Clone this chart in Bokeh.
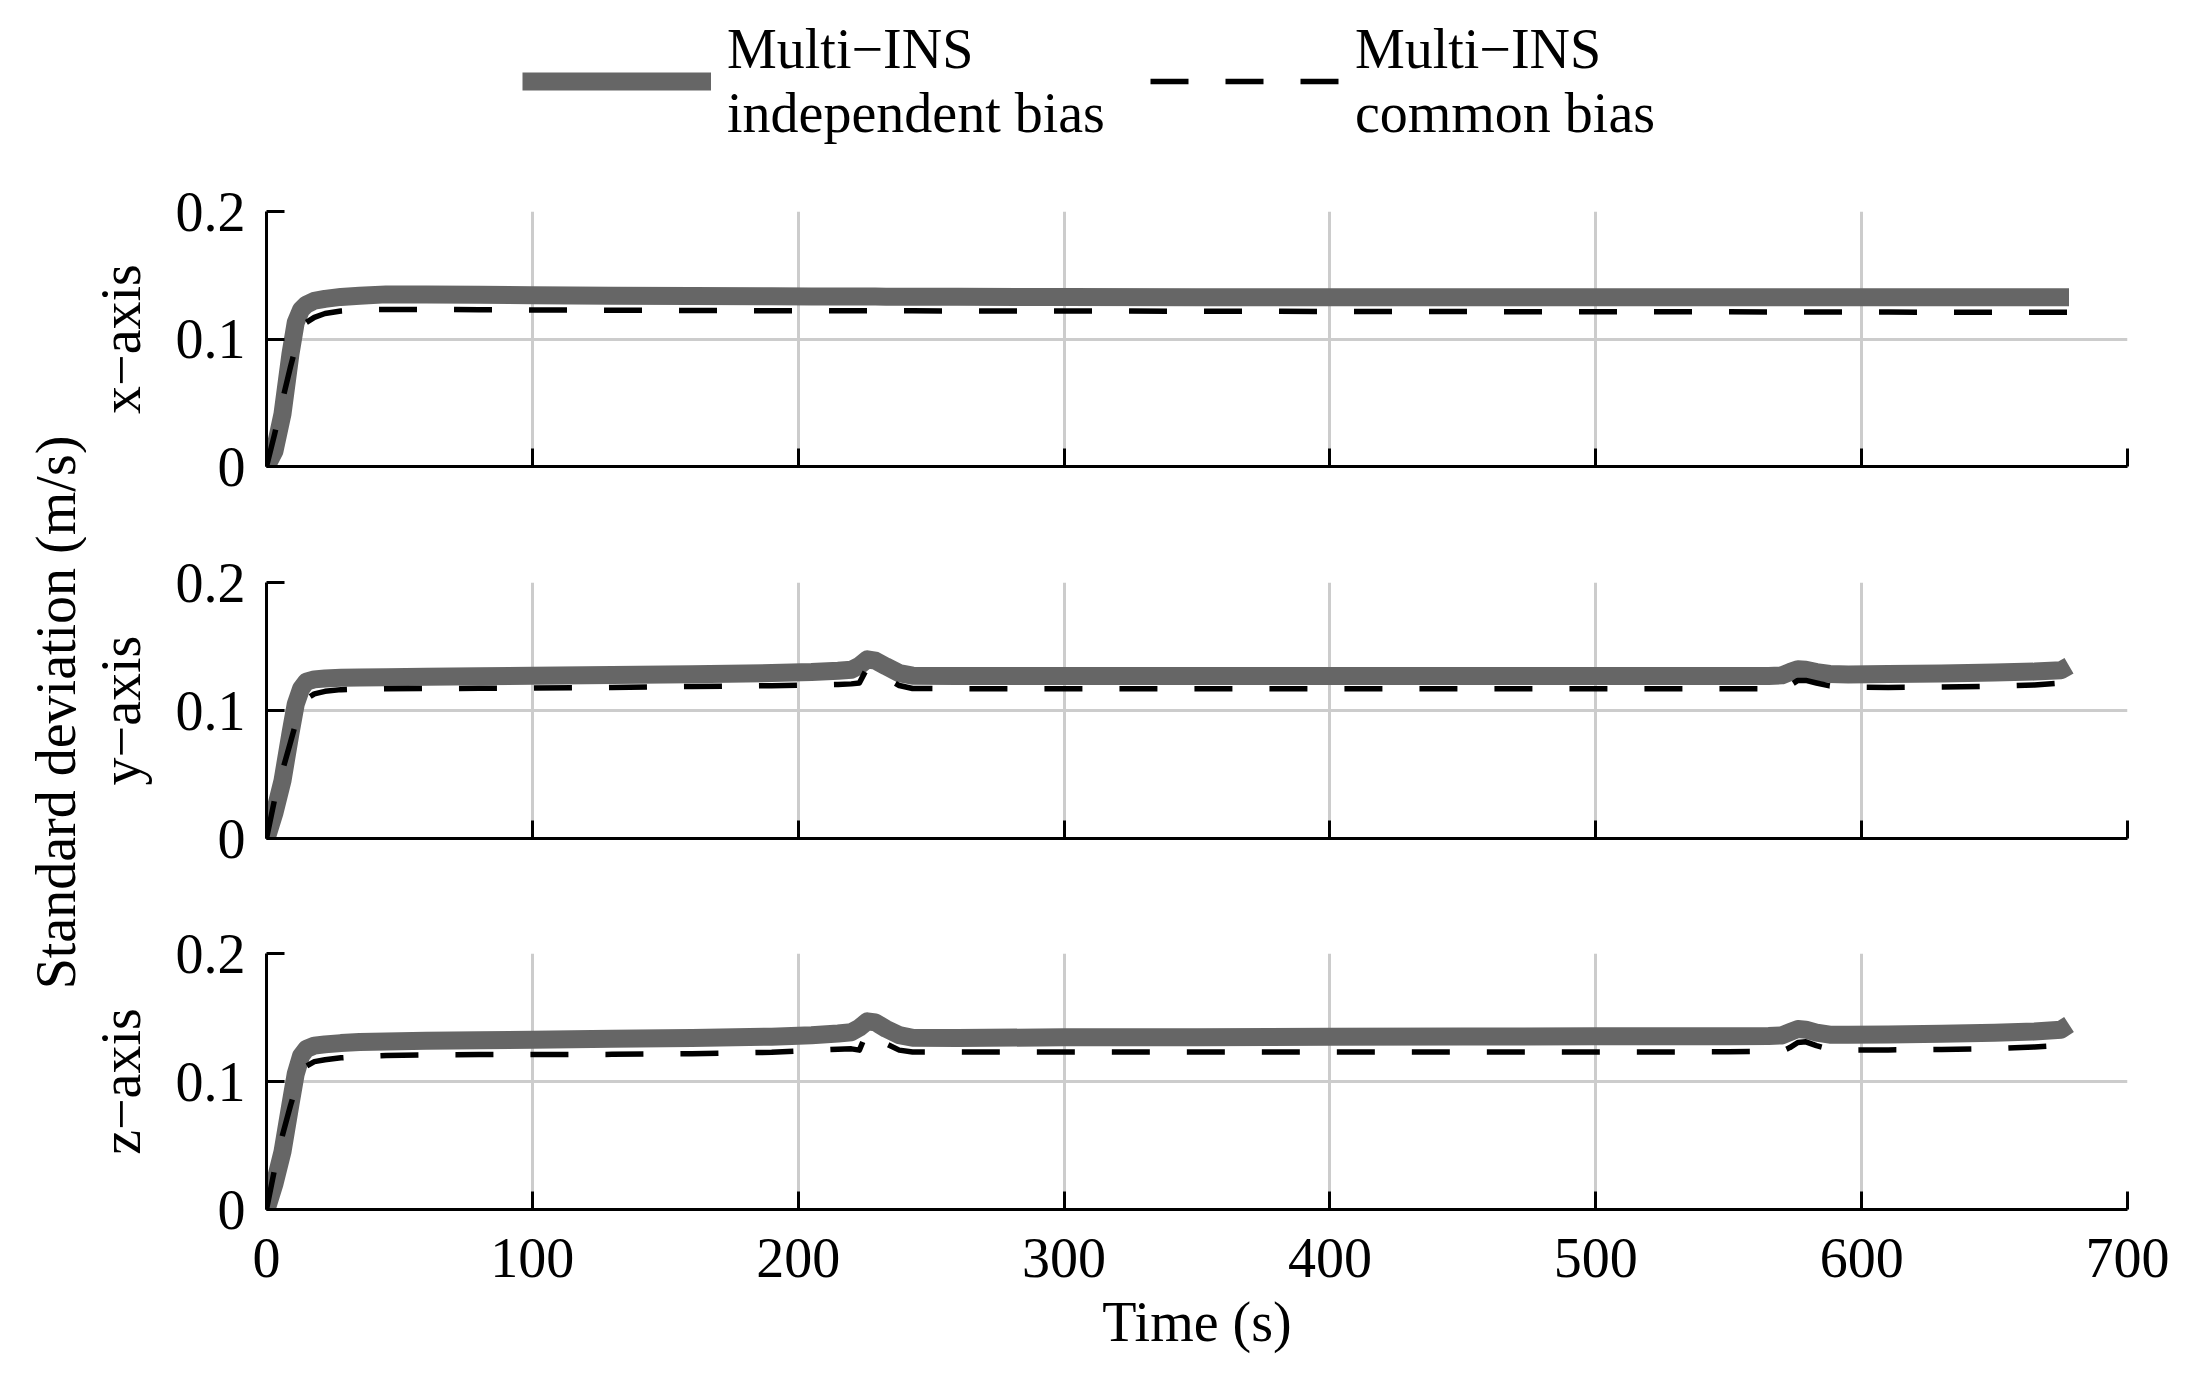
import math
from bokeh.plotting import figure
from bokeh.layouts import column, row
from bokeh.models import Range1d, FixedTicker, Legend, LegendItem, Label
from bokeh.embed import file_html
from bokeh.resources import INLINE

# ---------------- data ----------------
time_s = [0, 3, 6, 9, 11, 13, 15, 18, 22, 28,
          35, 45, 60, 80, 100, 130, 160, 190, 205, 215,
          220, 223, 226, 229, 233, 238, 243, 260, 300, 350,
          400, 450, 500, 550, 565, 570, 573, 576, 579, 583,
          588, 595, 610, 630, 650, 665, 675, 678]

indep_x = [0.0, 0.012, 0.041, 0.088, 0.113, 0.123, 0.127, 0.130, 0.1315, 0.133,
           0.134, 0.135, 0.135, 0.1348, 0.1343, 0.134, 0.1337, 0.1335, 0.1334, 0.1333,
           0.1333, 0.1333, 0.1333, 0.1333, 0.1332, 0.1332, 0.1332, 0.1331, 0.1329, 0.1328,
           0.1328, 0.1328, 0.1328, 0.1328, 0.1328, 0.1328, 0.1328, 0.1328, 0.1328, 0.1328,
           0.1328, 0.1328, 0.1328, 0.1328, 0.1328, 0.1328, 0.1328, 0.1328]
common_x = [0.0, 0.025, 0.052, 0.078, 0.094, 0.106, 0.113, 0.117, 0.120, 0.122,
            0.1228, 0.1232, 0.1232, 0.123, 0.1228, 0.1226, 0.1224, 0.1222, 0.1222, 0.1221,
            0.1221, 0.1221, 0.1221, 0.1221, 0.1221, 0.1221, 0.1221, 0.122, 0.122, 0.1218,
            0.1216, 0.1215, 0.1214, 0.1213, 0.1212, 0.1212, 0.1212, 0.1212, 0.1212, 0.1212,
            0.1212, 0.1211, 0.1211, 0.121, 0.121, 0.121, 0.121, 0.121]

indep_y = [0.0, 0.020, 0.045, 0.082, 0.105, 0.117, 0.1225, 0.1243, 0.125, 0.1255,
           0.1258, 0.126, 0.1264, 0.1268, 0.1272, 0.1278, 0.1284, 0.1292, 0.1300, 0.1310,
           0.1318, 0.1350, 0.1400, 0.1390, 0.1345, 0.1292, 0.1272, 0.1270, 0.1270, 0.1270,
           0.1270, 0.1270, 0.1270, 0.1270, 0.1270, 0.1275, 0.1300, 0.1322, 0.1318, 0.1300,
           0.1286, 0.1282, 0.1285, 0.1290, 0.1296, 0.1304, 0.1314, 0.1350]
common_y = [0.0, 0.030, 0.053, 0.075, 0.090, 0.101, 0.109, 0.113, 0.115, 0.1163,
            0.1168, 0.117, 0.1171, 0.1173, 0.1175, 0.118, 0.1188, 0.1194, 0.1198, 0.1203,
            0.1208, 0.1215, 0.1335, 0.1310, 0.1255, 0.1195, 0.1172, 0.117, 0.117, 0.117,
            0.117, 0.117, 0.117, 0.117, 0.117, 0.1172, 0.1195, 0.1235, 0.1235, 0.1215,
            0.1192, 0.1182, 0.118, 0.1183, 0.119, 0.1200, 0.1215, 0.1175]

indep_z = [0.0, 0.020, 0.045, 0.082, 0.106, 0.120, 0.1255, 0.128, 0.129, 0.130,
           0.1308, 0.1313, 0.1318, 0.1322, 0.1327, 0.1334, 0.134, 0.135, 0.1362, 0.1375,
           0.1385, 0.142, 0.147, 0.1462, 0.1412, 0.1362, 0.1342, 0.134, 0.1345, 0.1345,
           0.135, 0.1352, 0.1353, 0.1354, 0.1355, 0.136, 0.1385, 0.141, 0.1405, 0.1382,
           0.1366, 0.1365, 0.1368, 0.1373, 0.138, 0.139, 0.1405, 0.1445]
common_z = [0.0, 0.031, 0.058, 0.081, 0.095, 0.105, 0.112, 0.1155, 0.117, 0.1185,
            0.1195, 0.1203, 0.1208, 0.121, 0.121, 0.1212, 0.1217, 0.1228, 0.1242, 0.1252,
            0.1255, 0.1245, 0.1395, 0.1355, 0.1295, 0.1245, 0.123, 0.123, 0.123, 0.123,
            0.123, 0.123, 0.123, 0.1232, 0.1235, 0.1237, 0.1265, 0.1305, 0.131, 0.128,
            0.1252, 0.1245, 0.1247, 0.125, 0.1257, 0.127, 0.1282, 0.124]

x_ticks = [0, 100, 200, 300, 400, 500, 600, 700]
x_tick_labels = ["0", "100", "200", "300", "400", "500", "600", "700"]
y_ticks = [0, 0.1, 0.2]
y_tick_labels = ["0", "0.1", "0.2"]
panel_labels = ["x\u2212axis", "y\u2212axis", "z\u2212axis"]
series_labels = ["Multi\u2212INS\nindependent bias", "Multi\u2212INS\ncommon bias"]
x_label = "Time (s)"
y_label = "Standard deviation (m/s)"

# ---------------- style / layout ----------------
FONT = "Liberation Serif"
FS = "56px"
GRAY = "#666666"
GRID = "#cccccc"
DASH = "38 37"
LW_GRAY = 18
LW_DASH = 5.5

LABEL_W = 86            # width of the column that carries the common y label
MAIN_W = 2197 - LABEL_W
LEFT = 266 - LABEL_W    # frame starts at x = 266
RIGHT = 70              # frame ends at x = 2127
LEG_H = 150
H1, H2, H3 = 400, 371, 458
TOTAL_H = LEG_H + H1 + H2 + H3


def make_fig(height, top, bottom, ylab, vals_indep, vals_common, show_x):
    p = figure(width=MAIN_W, height=height, output_backend="svg", toolbar_location=None,
               x_range=Range1d(0, 700), y_range=Range1d(0, 0.2), title=None,
               min_border_left=LEFT, min_border_right=RIGHT,
               min_border_top=top, min_border_bottom=bottom)
    p.outline_line_color = None
    p.background_fill_color = "white"
    p.border_fill_color = "white"

    p.xaxis.ticker = FixedTicker(ticks=x_ticks)
    p.yaxis.ticker = FixedTicker(ticks=y_ticks)
    p.xaxis.major_label_overrides = dict(zip(x_ticks, x_tick_labels))
    p.yaxis.major_label_overrides = dict(zip(y_ticks, y_tick_labels))
    for ax in (p.xaxis, p.yaxis):
        ax.axis_line_width = 3
        ax.axis_line_color = "black"
        ax.major_tick_in = 18
        ax.major_tick_out = 0
        ax.major_tick_line_width = 3
        ax.major_tick_line_color = "black"
        ax.minor_tick_line_color = None
        ax.major_label_text_font = FONT
        ax.major_label_text_font_size = FS
        ax.major_label_text_color = "black"
        ax.axis_label_text_font = FONT
        ax.axis_label_text_font_size = FS
        ax.axis_label_text_font_style = "normal"
        ax.axis_label_text_color = "black"
    p.yaxis.major_label_standoff = 21
    p.yaxis.axis_label = ylab
    p.yaxis.axis_label_standoff = 21
    p.yaxis.axis_label_text_line_height = 1.0
    if show_x:
        p.xaxis.major_label_standoff = 29
        p.xaxis.axis_label = x_label
        p.xaxis.axis_label_standoff = 11
    else:
        p.xaxis.major_label_standoff = 0
        p.xaxis.major_label_text_color = None

    for g in (p.xgrid, p.ygrid):
        g.grid_line_color = GRID
        g.grid_line_width = 3

    p.line(time_s, vals_indep, line_color=GRAY, line_width=LW_GRAY,
           line_join="round", line_cap="butt")
    p.line(time_s, vals_common, line_color="black", line_width=LW_DASH,
           line_dash=DASH, line_join="round", line_cap="butt")
    return p


p1 = make_fig(H1, 61, 84, panel_labels[0], indep_x, common_x, False)
p2 = make_fig(H2, 32, 83, panel_labels[1], indep_y, common_y, False)
p3 = make_fig(H3, 32, 170, panel_labels[2], indep_z, common_z, True)

# ---- legend strip (legend items refer to line renderers of this strip) ----
lf = figure(width=MAIN_W, height=LEG_H, output_backend="svg", toolbar_location=None,
            x_range=Range1d(-100, -50), y_range=Range1d(0, 0.2), title=None,
            x_axis_location=None, y_axis_location=None, min_border=0)
lf.outline_line_color = None
lf.grid.visible = False
lg1 = lf.line(time_s, indep_x, line_color=GRAY, line_width=LW_GRAY, line_cap="butt")
lg2 = lf.line(time_s, common_x, line_color="black", line_width=LW_DASH,
              line_dash=DASH, line_cap="butt")
legend = Legend(items=[LegendItem(label=series_labels[0], renderers=[lg1]),
                       LegendItem(label=series_labels[1], renderers=[lg2])],
                location=(256, 5), orientation="horizontal",
                glyph_width=189, glyph_height=20, label_standoff=16, spacing=45,
                padding=0, margin=0, border_line_color=None,
                background_fill_alpha=0,
                label_text_font=FONT, label_text_font_size=FS,
                label_text_color="black", label_text_line_height=1.0)
lf.add_layout(legend)

# ---- common y label column ----
yl = figure(width=LABEL_W, height=TOTAL_H, output_backend="svg", toolbar_location=None,
            x_range=Range1d(0, LABEL_W), y_range=Range1d(0, TOTAL_H), title=None,
            x_axis_location=None, y_axis_location=None, min_border=0)
yl.outline_line_color = None
yl.grid.visible = False
yl.add_layout(Label(x=55, y=TOTAL_H - 712, text=y_label, angle=math.pi / 2,
                    text_align="center", text_baseline="middle",
                    text_font=FONT, text_font_size=FS, text_color="black",
                    text_line_height=1.0))

layout = row(yl, column(lf, p1, p2, p3, spacing=0), spacing=0)
open("out.html", "w").write(file_html(layout, INLINE))
